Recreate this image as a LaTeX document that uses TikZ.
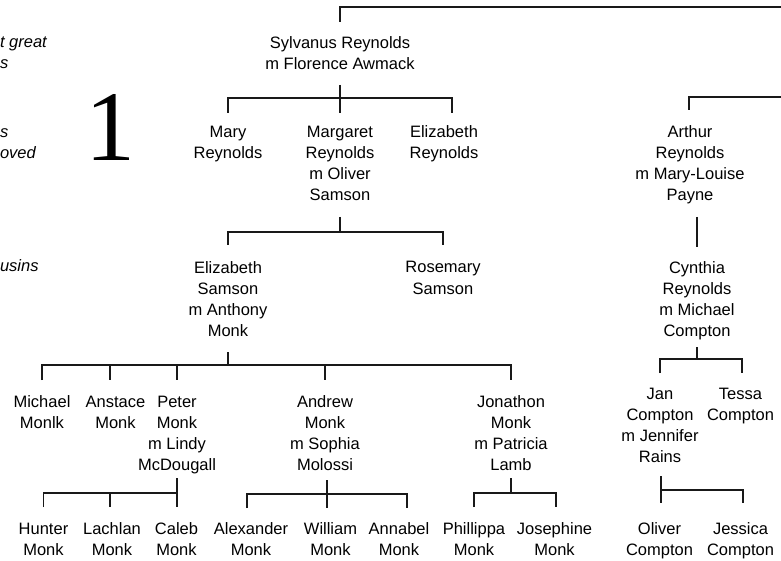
\documentclass[tikz,border=0pt]{standalone}
\usepackage{fontspec}
\setmainfont{Liberation Sans}
\newfontfamily\bigserif{Liberation Serif}

\begin{document}
\begin{tikzpicture}[x=1pt,y=-1pt,
  % nodes are placed by the baseline of their last line
  person/.style={anchor=base, align=center, inner sep=0pt, outer sep=0pt,
                 font=\fontsize{16.5}{21}\selectfont},
  genlabel/.style={anchor=base west, align=left, inner sep=0pt, outer sep=0pt,
                   font=\fontsize{16.5}{21}\selectfont\itshape},
  link/.style={line width=1.3pt, draw=black!90}]

\useasboundingbox[fill=white] (0,0) rectangle (781,561);

% generation labels down the left margin
\node[genlabel] (lblgreat)   at (0,69)  {t great\\s};
\node[genlabel] (lblremoved) at (0,159) {s\\oved};
\node[genlabel] (lblcousins) at (0,272) {usins};

% chart number
\node[anchor=base, inner sep=0pt, font=\bigserif\fontsize{100}{100}\selectfont] (chartno) at (110.5,161) {1};

% ---- generation 1
\node[person] (sylvanus) at (340,70) {Sylvanus Reynolds\\m Florence Awmack};
\coordinate (topright) at (781,7);
\coordinate (arthurright) at (781,97);
\draw[link] (sylvanus |- 0,22) -- (sylvanus |- 0,7) -- (topright);

% ---- generation 2
\node[person] (mary)       at (228,159) {Mary\\Reynolds};
\node[person] (margaret)   at (340,201) {Margaret\\Reynolds\\m Oliver\\Samson};
\node[person] (elizabethr) at (444,159) {Elizabeth\\Reynolds};
\node[person] (arthur)     at (690,201) {Arthur\\Reynolds\\m Mary-Louise\\Payne};

\draw[link] (sylvanus |- 0,85) -- (sylvanus |- 0,113);
\draw[link] (mary |- 0,113) -- (mary |- 0,98) -- (452,98) coordinate (elizrdrop) -- (elizrdrop |- 0,113);
\draw[link] (arthurright) -- (689,97) coordinate (arthurstem) -- (arthurstem |- 0,110);

% ---- generation 3
\node[person] (elizabeths) at (228,336) {Elizabeth\\Samson\\m Anthony\\Monk};
\node[person] (rosemary)   at (443,294) {Rosemary\\Samson};
\node[person] (cynthia)    at (697,336) {Cynthia\\Reynolds\\m Michael\\Compton};

\draw[link] (margaret |- 0,217) -- (margaret |- 0,232);
\draw[link] (elizabeths |- 0,245) -- (elizabeths |- 0,232) -- (rosemary |- 0,232) -- (rosemary |- 0,245);
\draw[link] (cynthia |- 0,217) -- (cynthia |- 0,247);

% ---- generation 4
\node[person] (michael)  at (42,428)    {Michael\\Monlk};
\node[person] (anstace)  at (115.5,428) {Anstace\\Monk};
\node[person] (peter)    at (177,470)   {Peter\\Monk\\m Lindy\\McDougall};
\node[person] (andrew)   at (325,470)   {Andrew\\Monk\\m Sophia\\Molossi};
\node[person] (jonathon) at (511,470)   {Jonathon\\Monk\\m Patricia\\Lamb};
\node[person] (jan)      at (660,462)   {Jan\\Compton\\m Jennifer\\Rains};
\node[person] (tessa)    at (740.5,420) {Tessa\\Compton};

\draw[link] (elizabeths |- 0,352) -- (elizabeths |- 0,365);
\draw[link] (michael |- 0,380) -- (michael |- 0,365) -- (jonathon |- 0,365) -- (jonathon |- 0,380);
\draw[link] (110,365) coordinate (anstacebus) -- (anstacebus |- 0,380);
\draw[link] (peter |- 0,365) -- (peter |- 0,380);
\draw[link] (andrew |- 0,365) -- (andrew |- 0,380);

\draw[link] (cynthia |- 0,347) -- (cynthia |- 0,359);
\draw[link] (jan |- 0,373) -- (jan |- 0,359) -- (742,359) coordinate (tessabus) -- (tessabus |- 0,373);

% ---- generation 5
\node[person] (hunter)    at (43.5,555)  {Hunter\\Monk};
\node[person] (lachlan)   at (112,555)   {Lachlan\\Monk};
\node[person] (caleb)     at (176.5,555) {Caleb\\Monk};
\node[person] (alexander) at (251,555)   {Alexander\\Monk};
\node[person] (william)   at (330.5,555) {William\\Monk};
\node[person] (annabel)   at (399,555)   {Annabel\\Monk};
\node[person] (phillippa) at (474,555)   {Phillippa\\Monk};
\node[person] (josephine) at (554.5,555) {Josephine\\Monk};
\node[person] (oliver)    at (659.5,555) {Oliver\\Compton};
\node[person] (jessica)   at (740.5,555) {Jessica\\Compton};

% Peter's children
\draw[link] (peter |- 0,478) -- (peter |- 0,507);
\draw[link] (hunter |- 0,507) -- (hunter |- 0,493) -- (peter |- 0,493);
\draw[link] (110,493) coordinate (lachlanbus) -- (lachlanbus |- 0,507);

% Andrew's children
\draw[link] (327,480) coordinate (andrewstem) -- (andrewstem |- 0,508);
\draw[link] (247,508) coordinate (alexdrop) -- (alexdrop |- 0,494) -- (407,494) coordinate (annabus) -- (annabus |- 0,508);

% Jonathon's children
\draw[link] (jonathon |- 0,478) -- (jonathon |- 0,493);
\draw[link] (phillippa |- 0,507) -- (phillippa |- 0,493) -- (556,493) coordinate (josebus) -- (josebus |- 0,507);

% Jan's children
\draw[link] (661,476) coordinate (janstem) -- (janstem |- 0,503);
\draw[link] (janstem |- 0,490) -- (743,490) coordinate (jessbus) -- (jessbus |- 0,503);

\end{tikzpicture}
\end{document}
